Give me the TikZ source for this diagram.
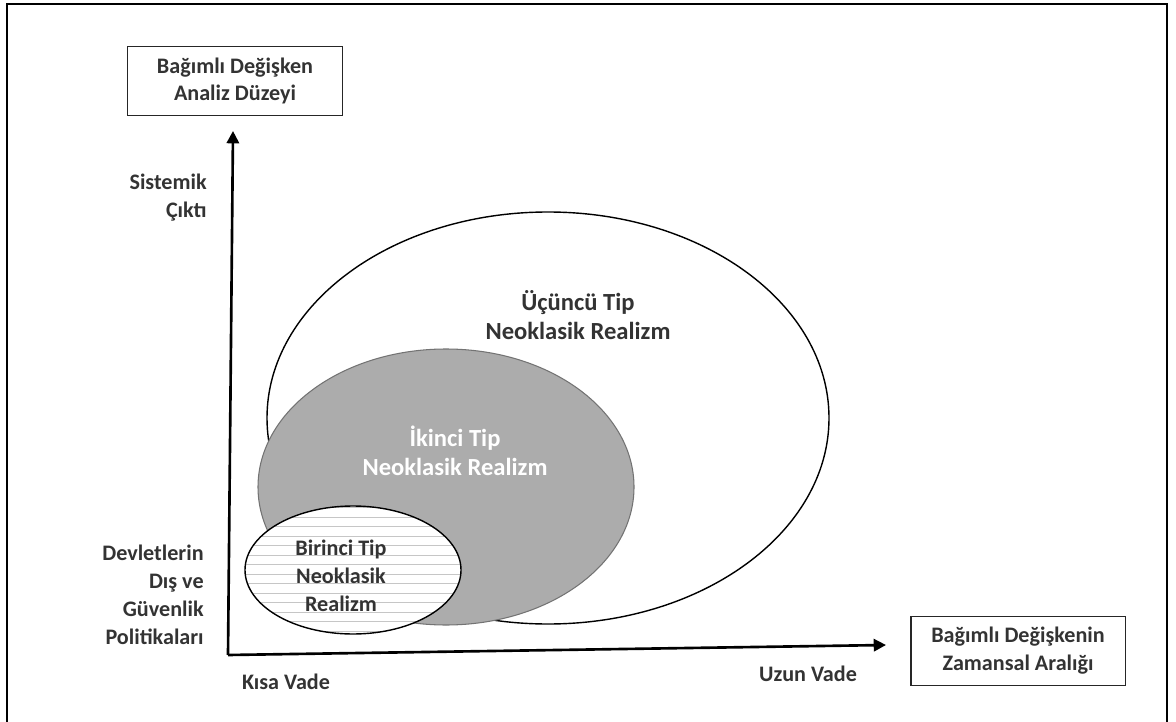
\documentclass[tikz,border=0pt]{standalone}
\usepackage{fontspec}
\setmainfont{Carlito}
\usetikzlibrary{arrows.meta}
\begin{document}
\begin{tikzpicture}[x=0.02cm,y=0.02cm,
    lbl/.style={font=\fontsize{12.6}{15.9}\selectfont\bfseries, text=black!80, align=center, inner sep=0pt},
    biglbl/.style={lbl, font=\fontsize{14}{16.5}\selectfont\bfseries},
    axisbox/.style={lbl, draw=black!85, line width=1.1pt, minimum width=4.3cm, minimum height=1.38cm},
    axis/.style={line width=1.5pt, -{Triangle[length=7pt,width=7pt]}}]
    \useasboundingbox (0,0) rectangle (1176,721);
    \draw[line width=1.4pt] (7,-5) -- (7,717) -- (1167,717) -- (1167,-5);
    % ellipses
    \draw[fill=white, line width=0.8pt] (548,303) ellipse [x radius=281, y radius=206];
    \draw[fill=gray!65, draw=gray!90!black, line width=0.6pt] (446,234) ellipse [x radius=188, y radius=138];
    \begin{scope}
        \clip (353,151) ellipse [x radius=108, y radius=64];
        \fill[white] (240,85) rectangle (466,218);
        \foreach \y in {90,99.5,...,215} \draw[gray!45, line width=0.5pt] (240,\y) -- (466,\y);
    \end{scope}
    \draw[line width=0.8pt] (353,151) ellipse [x radius=108, y radius=64];
    % axes
    \node[axisbox] (ylab) at (235,640) {Bağımlı Değişken\\Analiz Düzeyi};
    \node[axisbox] (xlab) at (1018,70) {Bağımlı Değişkenin\\Zamansal Aralığı};
    \coordinate (o) at (228,66);
    \coordinate (ytip) at (233,590);
    \coordinate (xtip) at (886,76);
    \draw[axis] (o) -- (ytip);
    \draw[axis] (o) -- (xtip);
    \node[lbl, align=right, anchor=east] (sys) at (207,523) {Sistemik\\Çıktı};
    \node[lbl, align=right, anchor=east] (pol) at (204,126) {Devletlerin\\Dış ve\\Güvenlik\\Politikaları};
    \node[lbl] (kisa) at (286,39) {Kısa Vade};
    \node[lbl] (uzun) at (808,47) {Uzun Vade};
    % types
    \node[biglbl] (t3) at (578,406) {Üçüncü Tip\\Neoklasik Realizm};
    \node[biglbl, text=white] (t2) at (455,270) {İkinci Tip\\Neoklasik Realizm};
    \node[lbl] (t1) at (341,145) {Birinci Tip\\Neoklasik\\Realizm};
\end{tikzpicture}
\end{document}
